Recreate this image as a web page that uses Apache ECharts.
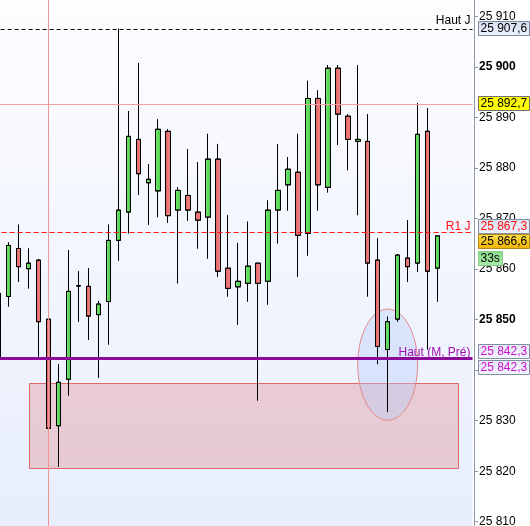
<!DOCTYPE html>
<html>
<head>
<meta charset="utf-8">
<script src="https://cdn.jsdelivr.net/npm/echarts@6/dist/echarts.min.js"></script>
<style>html,body{margin:0;padding:0;background:#fff;}#c{width:530px;height:526px;}</style>
</head>
<body>
<div id="c"></div>
<script>
// ---- data ----
const categories = ['01','02','03','04','05','06','07','08','09','10','11','12','13','14','15','16',
  '17','18','19','20','21','22','23','24','25','26','27','28','29','30','31','32','33','34','35','36',
  '37','38','39','40','41','42','43','44','45','46','47','48'];
const openV  = [25842.7,25854.6,25864.1,25860.1,25861.8,25850.1,25829.0,25838.2,25856.7,25856.6,
  25851.0,25853.6,25865.7,25871.3,25885.7,25877.1,25875.5,25887.3,25871.7,25874.6,25871.3,25870.3,
  25881.8,25860.2,25856.5,25857.2,25861.2,25857.6,25871.7,25876.7,25879.2,25867.1,25893.8,25876.2,
  25899.8,25890.3,25885.3,25885.3,25861.8,25844.1,25850.1,25862.2,25861.2,25887.3,25860.2];
const closeV = [25855.2,25864.7,25860.5,25861.2,25849.6,25828.5,25837.6,25855.6,25856.7,25850.7,
  25853.1,25865.7,25871.7,25886.3,25878.9,25877.8,25887.7,25870.6,25875.6,25871.7,25869.7,25881.8,
  25859.6,25856.2,25857.6,25860.6,25857.2,25871.7,25875.6,25879.8,25866.7,25893.8,25876.7,25899.8,
  25890.7,25885.7,25885.7,25861.2,25844.7,25849.6,25862.8,25860.5,25886.7,25859.6,25866.6];
const lowV   = [25842.3,25852.6,25857.5,25856.2,25842.7,25825.0,25820.9,25835.0,25849.6,25846.0,
  25838.5,25845.1,25861.7,25867.1,25874.7,25868.8,25870.3,25869.2,25857.2,25869.6,25864.1,25862.1,
  25858.5,25854.6,25849.0,25853.6,25834.0,25853.0,25865.1,25871.6,25858.5,25862.7,25871.6,25875.2,
  25884.6,25879.6,25870.7,25854.6,25841.2,25831.7,25849.6,25857.5,25859.5,25844.1,25853.6];
const highV  = [25855.3,25865.3,25868.8,25864.1,25862.0,25850.2,25841.2,25863.8,25859.6,25860.2,
  25853.7,25868.8,25907.6,25891.3,25900.8,25880.8,25889.7,25887.7,25876.2,25883.8,25881.2,25886.8,
  25884.8,25870.7,25865.2,25869.4,25861.2,25873.6,25884.8,25882.2,25886.8,25897.3,25895.4,25900.4,
  25900.4,25890.7,25900.4,25890.7,25866.1,25850.6,25863.0,25869.7,25892.9,25891.9,25866.6];

const yTicks = [25810, 25820, 25830, 25840, 25850, 25860, 25870, 25880, 25890, 25900, 25910];
const yBoldTicks = [25850, 25900];
const yMin = 25809.15, yMax = 25913.3;

const levelHautJ = 25907.6;
const levelCursor = 25892.7;
const levelR1J = 25867.3;
const levelLast = 25866.6;
const levelHautMPre = 25842.3;
const cursorCategory = 5;
const countdownText = '33s';
// zone rectangle: [fromCategory, topValue, toCategory, bottomValue]
const zoneRect = [3, 25837.4, 46, 25820.6];
// ellipse: [centerCategory, centerValue, edgeCategory, topValue]
const ellipseMark = [39, 25841.1, 42, 25852.1];

// ---- helpers ----
function fmt(v, dec) {
  const s = v.toFixed(dec);
  const parts = s.split('.');
  const g = parts[0].replace(/\B(?=(\d{3})+(?!\d))/g, ' ');
  return parts.length > 1 ? g + ',' + parts[1] : g;
}

const candleData = openV.map((o, i) => [o, closeV[i], lowV[i], highV[i]]);
const FONT = 'Liberation Sans, Arial, sans-serif';

const chart = echarts.init(document.getElementById('c'), null, {renderer: 'canvas'});

const option = {
  animation: false,
  backgroundColor: '#ffffff',
  grid: {
    left: -6.37, right: 57.5, top: 0, bottom: 0,
    containLabel: false, outerBoundsMode: 'none',
    show: true, borderWidth: 0,
    backgroundColor: new echarts.graphic.LinearGradient(0, 0, 0, 1, [
      {offset: 0, color: '#fdfdff'}, {offset: 1, color: '#e7eefc'}
    ])
  },
  xAxis: {
    type: 'category', data: categories, boundaryGap: true,
    axisLine: {show: false}, axisTick: {show: false}, axisLabel: {show: false}, splitLine: {show: false}
  },
  yAxis: {
    type: 'value', position: 'right', offset: 1.5,
    min: yMin, max: yMax,
    axisLine: {show: true, lineStyle: {color: '#8a98a8', width: 1}},
    axisTick: {show: true, length: 4, inside: false, customValues: yTicks, lineStyle: {color: '#8a98a8'}},
    splitLine: {show: false},
    axisLabel: {
      customValues: yTicks,
      margin: 5, color: '#000', fontSize: 12, fontFamily: FONT,
      formatter: function (v) {
        const t = fmt(v, 0);
        return yBoldTicks.indexOf(Math.round(v)) >= 0 ? '{b|' + t + '}' : t;
      },
      rich: {b: {fontWeight: 'bold', fontSize: 12, fontFamily: FONT, color: '#000'}}
    }
  },
  series: [
    {
      type: 'custom', z: 1, silent: true,
      encode: {x: [0, 2], y: [1, 3]},
      data: [zoneRect],
      renderItem: function (params, api) {
        const p1 = api.coord([api.value(0), api.value(1)]);
        const p2 = api.coord([api.value(2), api.value(3)]);
        return {
          type: 'rect',
          shape: {x: Math.round(p1[0]) + 0.5, y: Math.round(p1[1]) + 0.5,
                  width: Math.round(p2[0] - p1[0]), height: Math.round(p2[1] - p1[1])},
          style: {fill: 'rgba(226,150,155,0.42)', stroke: '#e06868', lineWidth: 1}
        };
      }
    },
    {
      type: 'custom', z: 1, silent: true,
      encode: {x: [0, 2], y: [1, 3]},
      data: [ellipseMark],
      renderItem: function (params, api) {
        const c = api.coord([api.value(0), api.value(1)]);
        const e = api.coord([api.value(2), api.value(3)]);
        return {
          type: 'ellipse',
          shape: {cx: c[0], cy: c[1], rx: Math.abs(e[0] - c[0]), ry: Math.abs(c[1] - e[1])},
          style: {fill: 'rgba(185,205,250,0.38)', stroke: '#e48888', lineWidth: 1}
        };
      }
    },
    {
      type: 'candlestick', z: 3,
      data: candleData,
      barWidth: 5,
      itemStyle: {
        color: new echarts.graphic.LinearGradient(0, 0, 1, 0, [
          {offset: 0, color: '#78e878'}, {offset: 1, color: '#46cc46'}]),
        color0: new echarts.graphic.LinearGradient(0, 0, 1, 0, [
          {offset: 0, color: '#e25e5e'}, {offset: 1, color: '#f08a8a'}]),
        borderColor: '#000', borderColor0: '#000', borderColorDoji: '#000', borderWidth: 1
      },
      markLine: {
        symbol: 'none', silent: true, animation: false,
        data: [
          {yAxis: levelCursor, lineStyle: {type: 'solid', color: '#f2a0a0', width: 1},
           label: {show: false}},
          {xAxis: cursorCategory, lineStyle: {type: 'solid', color: '#f49494', width: 1},
           label: {show: false}},
          {yAxis: levelHautJ, lineStyle: {type: [4, 3], color: '#000', width: 1},
           label: {show: true, position: 'insideEndTop', formatter: 'Haut J', color: '#000',
                   fontSize: 12, fontFamily: FONT, distance: [2, 2]}},
          {yAxis: levelR1J, lineStyle: {type: [5, 3], color: '#ff1010', width: 1},
           label: {show: true, position: 'insideEndTop', formatter: 'R1 J', color: '#ff1010',
                   fontSize: 12, fontFamily: FONT, distance: [2, 0]}},
          {yAxis: levelHautMPre, lineStyle: {type: 'solid', color: '#8c0a98', width: 3},
           label: {show: true, position: 'insideEndTop', formatter: 'Haut (M, Pré)', color: '#a010b0',
                   fontSize: 12, fontFamily: FONT, distance: [2, 0]}}
        ]
      }
    }
  ]
};

chart.setOption(option);

function yPix(v) { return chart.convertToPixel({yAxisIndex: 0}, v); }
const BX = 478, BW = 51, BH = 14;
function box(centerY, text, fill, stroke, textColor, w) {
  const width = w || BW;
  const top = Math.round(centerY - BH / 2) + 0.5;
  return [
    {type: 'rect', z: 100, shape: {x: BX + 0.5, y: top, width: width, height: BH},
     style: {fill: fill, stroke: stroke, lineWidth: 1}},
    {type: 'text', z: 101, x: BX + 2.5, y: top + BH / 2 + 0.5,
     style: {text: text, fill: textColor, font: '12px ' + FONT, verticalAlign: 'middle', align: 'left'}}
  ];
}
const grad = (a, b) => new echarts.graphic.LinearGradient(0, 0, 0, 1, [{offset: 0, color: a}, {offset: 1, color: b}]);

const elements = [].concat(
  box(yPix(levelHautJ) - 0.5, fmt(levelHautJ, 1), grad('#d4def2', '#eef2fb'), '#7a8a9c', '#000'),
  box(yPix(levelCursor) - 1, fmt(levelCursor, 1), '#ffff00', '#707070', '#000'),
  box(yPix(levelR1J) - 6.5, fmt(levelR1J, 1), grad('#d8def0', '#f2f5fc'), '#8090a2', '#ff1010'),
  box(yPix(levelLast) + 5, fmt(levelLast, 1), grad('#ffe04a', '#f0b000'), '#b08a20', '#000'),
  box(yPix(levelLast) + 22, countdownText, grad('#86dc86', '#a8eca8'), '#88c888', '#000', 24),
  box(yPix(levelHautMPre) - 7.5, fmt(levelHautMPre, 1), grad('#e2e8f6', '#f4f6fd'), '#8090a2', '#d010d0'),
  box(yPix(levelHautMPre) + 8.5, fmt(levelHautMPre, 1), grad('#e2e8f6', '#f4f6fd'), '#8090a2', '#d010d0')
);
chart.setOption({graphic: {elements: elements}});
</script>
</body>
</html>
